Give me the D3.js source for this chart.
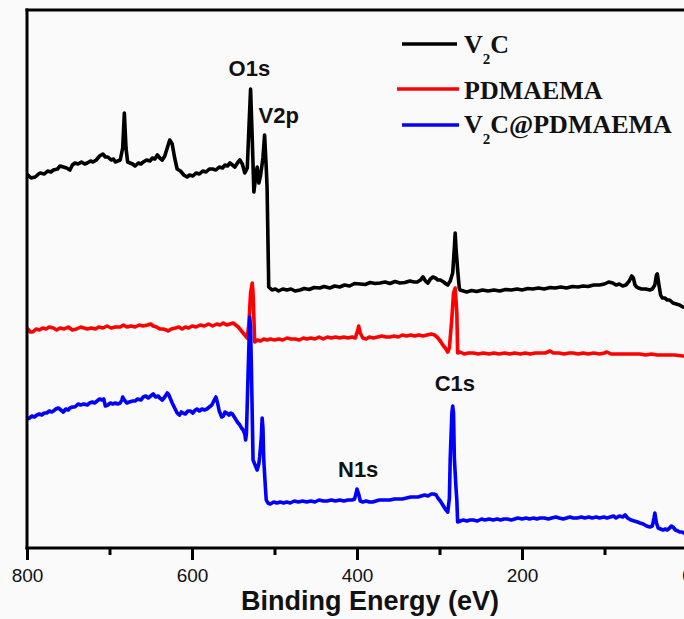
<!DOCTYPE html>
<html>
<head>
<meta charset="utf-8">
<script src="https://cdn.jsdelivr.net/npm/d3@7/dist/d3.min.js"></script>
<style>
  html, body { margin: 0; padding: 0; background: #fafafa; overflow: hidden; }
  svg { display: block; }
</style>
</head>
<body>
<svg id="chart" width="684" height="619"></svg>
<script>
// XPS survey spectra, [binding energy (eV), intensity (a.u., offset for stacking)]
const spectrumV2C = [
  [799, 74.6], [795, 74.0], [790, 74.2], [786, 74.8], [784, 75.0], [779, 74.8], [775, 75.4], [771, 75.2], [768, 75.6],
  [763, 75.8], [760, 76.4], [756, 76.2], [752, 76.0], [748, 75.6], [745, 76.6], [742, 77.0], [738, 76.8], [734, 77.2],
  [730, 76.8], [727, 77.0], [723, 77.4], [720, 77.2], [716, 77.6], [712, 78.4], [708, 78.8], [705, 78.2], [702, 78.2],
  [698, 77.6], [695, 77.8], [693, 77.2], [690, 77.4], [687, 77.6], [684, 80.0], [682, 87.0], [680, 80.0], [678, 77.2],
  [675, 77.0], [672, 76.8], [669, 76.4], [665, 77.0], [662, 76.8], [659, 77.2], [655, 77.6], [651, 77.4], [648, 78.0],
  [645, 77.8], [642, 78.6], [639, 78.0], [636, 77.6], [633, 78.4], [630, 80.0], [627, 81.6], [624, 80.8], [621, 78.0],
  [618, 75.8], [614, 75.4], [610, 74.6], [606, 74.2], [603, 74.6], [599, 74.4], [595, 75.0], [591, 74.8], [587, 75.4],
  [583, 75.2], [579, 75.8], [575, 75.8], [571, 75.6], [567, 76.2], [563, 76.0], [560, 76.6], [557, 76.4], [554, 77.0],
  [551, 76.6], [548, 76.2], [545, 77.0], [542, 77.6], [539, 76.8], [536, 75.0], [533, 76.0], [531, 84.0], [529, 91.8],
  [527, 82.0], [525, 71.2], [523, 74.0], [521, 76.2], [519, 73.0], [517, 74.4], [514, 78.0], [512, 82.6], [510, 76.0],
  [509, 72.2], [507, 52.2], [503, 51.6], [499, 51.8], [495, 51.4], [490, 51.8], [485, 51.6], [480, 51.8], [475, 51.4],
  [469, 51.6], [464, 51.9], [458, 51.7], [452, 52.1], [445, 52.0], [440, 52.3], [433, 52.0], [427, 52.4], [421, 52.2],
  [415, 52.6], [409, 52.4], [403, 52.9], [396, 52.8], [390, 52.7], [384, 53.1], [378, 52.9], [372, 53.0], [366, 53.2],
  [360, 52.9], [354, 53.3], [348, 53.0], [342, 53.1], [336, 53.4], [331, 53.2], [327, 53.2], [323, 53.6], [320, 54.2],
  [317, 53.4], [314, 53.0], [311, 53.8], [308, 54.2], [305, 54.0], [302, 53.6], [299, 53.6], [295, 53.2], [292, 52.8],
  [290, 52.6], [287, 53.4], [284, 55.0], [282, 60.0], [281, 63.0], [280, 60.0], [278, 55.6], [276, 52.0], [275, 51.6],
  [271, 51.4], [267, 51.2], [261, 51.5], [255, 51.3], [248, 51.6], [241, 51.4], [234, 51.6], [227, 51.4], [220, 51.7],
  [213, 51.6], [206, 51.8], [200, 51.6], [193, 51.9], [187, 51.8], [180, 52.0], [173, 51.8], [166, 52.1], [160, 52.0],
  [153, 52.2], [146, 52.0], [139, 52.3], [132, 52.2], [126, 52.4], [120, 52.3], [113, 52.6], [106, 52.6], [100, 52.8],
  [95, 53.2], [90, 53.0], [86, 52.6], [82, 52.8], [78, 52.4], [74, 52.6], [70, 53.4], [67, 54.4], [65, 54.0], [63, 52.6],
  [61, 52.2], [59, 52.0], [55, 51.8], [50, 51.8], [45, 51.6], [42, 51.8], [39, 52.6], [37, 54.6], [36, 54.8], [34, 52.6],
  [32, 50.6], [30, 50.0], [27, 50.0], [24, 49.6], [21, 49.6], [17, 49.0], [13, 48.8], [9, 48.6], [5, 48.2]
];

const spectrumPDMAEMA = [
  [799, 43.8], [796, 43.2], [793, 43.2], [789, 43.8], [785, 43.6], [781, 44.0], [777, 43.8], [773, 44.2], [768, 44.0],
  [764, 43.6], [760, 44.0], [755, 43.8], [750, 44.2], [745, 43.6], [740, 43.8], [735, 44.2], [731, 44.0], [727, 43.8],
  [722, 44.0], [717, 43.8], [713, 44.2], [708, 44.0], [703, 44.4], [698, 44.0], [693, 44.2], [687, 44.2], [683, 44.6],
  [679, 44.2], [674, 44.4], [669, 44.2], [664, 44.6], [659, 44.4], [654, 44.6], [650, 44.8], [647, 44.4], [643, 44.2],
  [639, 43.8], [635, 43.8], [631, 43.6], [629, 43.4], [625, 43.8], [620, 44.0], [616, 44.2], [612, 43.8], [608, 44.2],
  [604, 44.0], [600, 44.4], [595, 44.2], [590, 44.6], [585, 44.4], [580, 44.8], [575, 44.4], [570, 44.8], [566, 44.6],
  [562, 45.0], [558, 44.6], [554, 44.8], [550, 45.0], [547, 44.6], [544, 44.2], [541, 43.6], [538, 43.0], [535, 42.4],
  [533, 42.0], [531, 45.0], [529, 51.0], [527, 53.0], [526, 51.0], [524, 41.2], [521, 41.6], [517, 41.4], [513, 41.8],
  [509, 41.6], [505, 41.8], [500, 41.6], [495, 41.8], [490, 41.6], [485, 42.0], [480, 41.8], [475, 41.8], [470, 41.6],
  [465, 42.0], [461, 41.8], [456, 42.0], [451, 41.8], [446, 42.2], [441, 41.8], [436, 42.2], [431, 42.0], [426, 42.2],
  [421, 42.0], [416, 42.2], [411, 42.0], [406, 42.2], [402, 42.0], [399, 43.6], [398, 44.4], [396, 43.0], [393, 42.0],
  [389, 41.8], [385, 42.2], [380, 42.0], [375, 42.2], [370, 42.4], [365, 42.2], [360, 42.2], [355, 42.4], [350, 42.2],
  [345, 42.6], [340, 42.4], [335, 42.6], [330, 42.4], [325, 42.6], [320, 42.4], [315, 42.6], [310, 42.8], [306, 42.6],
  [303, 42.2], [299, 41.4], [296, 40.6], [293, 40.0], [290, 39.2], [288, 40.0], [285, 46.0], [283, 51.0], [281, 52.0],
  [279, 47.0], [278, 39.0], [275, 39.2], [270, 38.8], [265, 39.0], [259, 39.0], [253, 38.8], [247, 39.0], [240, 38.8],
  [234, 39.0], [228, 38.8], [221, 39.0], [215, 38.8], [209, 39.0], [202, 38.8], [196, 39.0], [190, 38.8], [184, 39.0],
  [178, 39.0], [172, 39.0], [166, 39.4], [162, 39.0], [155, 39.0], [149, 38.8], [143, 39.0], [138, 39.0], [132, 38.8],
  [126, 39.0], [120, 38.8], [113, 39.0], [106, 38.8], [100, 39.0], [97, 39.2], [92, 38.8], [85, 38.8], [78, 38.8],
  [70, 38.8], [64, 38.8], [57, 38.8], [50, 38.6], [43, 38.8], [36, 38.6], [29, 38.6], [22, 38.6], [15, 38.6], [5, 38.4]
];

const spectrumComposite = [
  [800, 25.8], [797, 26.0], [794, 26.4], [791, 26.2], [788, 26.6], [785, 26.8], [782, 26.6], [779, 27.0], [776, 27.0],
  [773, 27.4], [770, 27.2], [768, 27.4], [765, 27.8], [762, 28.0], [759, 27.6], [756, 27.2], [753, 27.8], [750, 27.6],
  [748, 28.0], [745, 28.2], [742, 28.2], [738, 28.8], [735, 28.6], [731, 28.8], [727, 28.6], [724, 29.0], [721, 29.2],
  [718, 29.0], [715, 29.4], [712, 29.8], [709, 29.6], [707, 29.8], [705, 28.4], [702, 28.6], [699, 29.0], [696, 28.8],
  [693, 29.0], [690, 28.8], [687, 29.0], [685, 29.6], [684, 30.2], [682, 29.6], [679, 29.0], [676, 29.2], [672, 29.4],
  [669, 29.4], [666, 29.8], [662, 29.6], [659, 30.2], [656, 30.4], [653, 30.0], [650, 30.4], [647, 30.8], [644, 30.2],
  [641, 30.4], [639, 30.0], [636, 29.6], [633, 30.2], [630, 31.0], [628, 30.6], [626, 29.8], [624, 29.0], [621, 28.0],
  [618, 27.0], [615, 26.6], [613, 27.2], [611, 27.0], [608, 26.8], [605, 27.4], [602, 27.4], [599, 27.0], [596, 27.6],
  [594, 27.8], [591, 27.4], [588, 27.8], [585, 27.6], [582, 27.8], [579, 28.2], [576, 28.6], [573, 29.6], [571, 30.2],
  [569, 29.0], [567, 27.4], [564, 26.2], [562, 26.4], [560, 27.2], [558, 27.0], [555, 26.6], [553, 27.0], [551, 26.8],
  [548, 26.0], [545, 25.2], [542, 24.6], [540, 24.0], [538, 23.6], [536, 22.8], [535, 21.6], [534, 23.0], [532, 35.0],
  [530, 46.2], [529, 44.0], [528, 36.0], [526, 17.6], [523, 16.4], [521, 15.6], [519, 16.8], [518, 18.2], [516, 22.0],
  [515, 26.0], [514, 24.0], [513, 17.6], [511, 12.0], [510, 9.6], [508, 9.0], [505, 8.8], [501, 9.2], [497, 9.0],
  [493, 9.2], [489, 9.0], [485, 9.2], [481, 9.0], [476, 9.4], [471, 9.2], [466, 9.4], [461, 9.2], [456, 9.4], [451, 9.2],
  [446, 9.6], [441, 9.4], [436, 9.4], [431, 9.6], [426, 9.4], [421, 9.6], [416, 9.4], [411, 9.6], [406, 9.6], [403, 9.8],
  [401, 11.0], [400, 11.8], [398, 10.8], [396, 9.4], [393, 9.2], [389, 9.4], [385, 9.2], [381, 9.2], [377, 9.4],
  [373, 9.6], [368, 9.6], [364, 9.6], [360, 9.6], [355, 9.8], [350, 9.8], [345, 9.8], [340, 10.0], [335, 10.2],
  [330, 10.2], [326, 10.2], [322, 10.4], [318, 10.6], [314, 10.4], [310, 10.8], [307, 10.8], [304, 10.6], [302, 10.0],
  [299, 9.4], [296, 8.6], [293, 7.8], [290, 7.2], [288, 10.0], [287, 18.0], [285, 27.0], [284, 28.4], [283, 27.0],
  [282, 18.0], [280, 12.0], [279, 9.6], [278, 5.2], [275, 5.4], [271, 5.6], [267, 5.4], [263, 5.6], [259, 5.6],
  [254, 5.4], [249, 5.8], [245, 5.6], [240, 5.8], [235, 5.6], [230, 5.8], [226, 5.6], [222, 5.8], [218, 5.8], [213, 5.6],
  [209, 5.8], [205, 6.0], [200, 5.8], [195, 6.0], [191, 5.8], [186, 6.0], [182, 5.8], [178, 6.0], [173, 6.0], [168, 5.8],
  [164, 6.0], [159, 6.2], [155, 6.0], [150, 5.8], [146, 6.0], [142, 6.2], [138, 6.0], [133, 6.0], [128, 6.2], [124, 6.0],
  [119, 6.2], [115, 6.0], [110, 6.2], [106, 6.0], [101, 6.2], [97, 6.0], [93, 6.2], [89, 6.4], [86, 6.0], [82, 6.4],
  [78, 6.2], [75, 6.6], [72, 6.0], [68, 5.6], [64, 5.4], [60, 5.2], [57, 5.0], [53, 4.8], [49, 4.4], [45, 4.2], [42, 4.4],
  [40, 6.0], [39, 7.0], [37, 5.0], [35, 4.0], [32, 3.8], [29, 3.6], [26, 3.8], [24, 3.6], [21, 4.0], [19, 4.4], [17, 4.2],
  [14, 3.6], [11, 3.4], [9, 3.2], [6, 3.2], [4, 3.0]
];

const seriesNames = ["V2C", "PDMAEMA", "V2C@PDMAEMA"];
const seriesColors = ["#000000", "#ff0000", "#0000ff"];
const majorTicks = [800, 600, 400, 200, 0];
const minorTicks = [700, 500, 300, 100];
const peakLabels = [
  { text: "O1s", energy: 529, intensity: 91.8, dx: -22, dy: -13 },
  { text: "V2p", energy: 512, intensity: 82.6, dx: -6, dy: -12 },
  { text: "C1s", energy: 284, intensity: 28.4, dx: -18, dy: -15 },
  { text: "N1s", energy: 400, intensity: 11.8, dx: -19, dy: -12 }
];

const series = [spectrumV2C, spectrumPDMAEMA, spectrumComposite].map((values, i) => ({
  name: seriesNames[i], color: seriesColors[i], values
}));

const svg = d3.select("#chart");
const plot = { left: 27, top: 10, right: 687, bottom: 548 };

const x = d3.scaleLinear().domain([800, 0]).range([plot.left, plot.right]);
const y = d3.scaleLinear().domain([0, 107.6]).range([plot.bottom, plot.top]);

svg.append("defs").append("clipPath").attr("id", "plot-clip")
  .append("rect").attr("x", plot.left).attr("y", plot.top)
  .attr("width", plot.right - plot.left).attr("height", plot.bottom - plot.top);

// spectra
const line = d3.line().x(d => x(d[0])).y(d => y(d[1]));
svg.append("g").attr("clip-path", "url(#plot-clip)")
  .selectAll("path").data(series).join("path")
  .attr("d", d => line(d.values))
  .attr("fill", "none")
  .attr("stroke", d => d.color)
  .attr("stroke-width", 3.6)
  .attr("stroke-linejoin", "round")
  .attr("stroke-linecap", "round");

// x axis: labelled major ticks plus unlabelled minor ticks
const axisMajor = svg.append("g").attr("transform", `translate(0,${plot.bottom})`)
  .call(d3.axisBottom(x).tickValues(majorTicks).tickFormat(d3.format("d")).tickSize(12).tickPadding(9));
const axisMinor = svg.append("g").attr("transform", `translate(0,${plot.bottom})`)
  .call(d3.axisBottom(x).tickValues(minorTicks).tickFormat("").tickSize(7));
[axisMajor, axisMinor].forEach(g => {
  g.select(".domain").remove();
  g.selectAll(".tick line").attr("stroke", "#000").attr("stroke-width", 3);
});
axisMajor.selectAll(".tick text")
  .attr("fill", "#111")
  .style("font-family", "'Liberation Sans', Arial, sans-serif")
  .style("font-size", "19px");

// frame: left, top and bottom edges
const frame = svg.append("g").attr("stroke", "#000").attr("stroke-width", 3);
frame.append("line").attr("x1", plot.left).attr("x2", plot.left).attr("y1", plot.top - 1.5).attr("y2", plot.bottom + 1.5);
frame.append("line").attr("x1", plot.left - 1.5).attr("x2", 684).attr("y1", plot.top).attr("y2", plot.top);
frame.append("line").attr("x1", plot.left - 1.5).attr("x2", 684).attr("y1", plot.bottom).attr("y2", plot.bottom);

// axis title
svg.append("text")
  .attr("x", 370).attr("y", 610)
  .attr("text-anchor", "middle")
  .style("font-family", "'Liberation Sans', Arial, sans-serif")
  .style("font-weight", "bold")
  .style("font-size", "27px")
  .attr("fill", "#111")
  .text("Binding Energy (eV)");

// peak annotations
svg.append("g").selectAll("text").data(peakLabels).join("text")
  .attr("x", d => x(d.energy) + d.dx)
  .attr("y", d => y(d.intensity) + d.dy)
  .style("font-family", "'Liberation Sans', Arial, sans-serif")
  .style("font-weight", "bold")
  .style("font-size", "22px")
  .attr("fill", "#111")
  .text(d => d.text);

// legend
const legendRows = [
  { y: 44, x1: 402, x2: 457, baseline: 53 },
  { y: 89, x1: 397, x2: 459, baseline: 99 },
  { y: 125, x1: 402, x2: 459, baseline: 133 }
];
const legend = svg.append("g");
series.forEach((s, i) => {
  const r = legendRows[i];
  legend.append("line").attr("x1", r.x1).attr("x2", r.x2).attr("y1", r.y).attr("y2", r.y)
    .attr("stroke", s.color).attr("stroke-width", 3.5);
  const t = legend.append("text").attr("x", 464).attr("y", r.baseline)
    .style("font-family", "'Liberation Serif', 'Times New Roman', serif")
    .style("font-weight", "bold")
    .style("font-size", "26px")
    .attr("fill", "#111");
  const m = s.name.match(/^V2(.*)$/);
  if (m) {
    t.append("tspan").text("V");
    t.append("tspan").attr("dy", 11).style("font-size", "15px").text("2");
    t.append("tspan").attr("dy", -11).text(m[1]);
  } else {
    t.text(s.name);
  }
});
</script>
</body>
</html>
